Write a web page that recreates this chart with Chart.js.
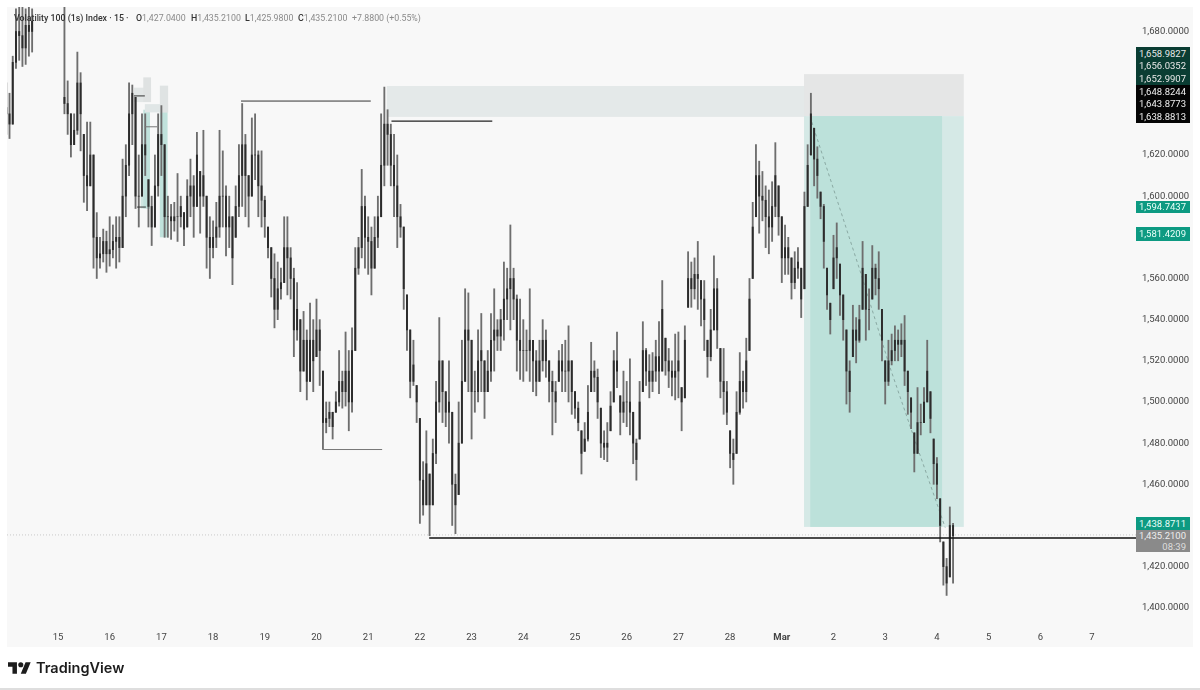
<!DOCTYPE html>
<html>
<head>
<meta charset="utf-8">
<script src="https://cdn.jsdelivr.net/npm/chart.js@4/dist/chart.umd.min.js"></script>
<style>
  html, body { margin: 0; padding: 0; background: #fff; overflow: hidden; }
  #panel { position: absolute; left: 7px; top: 7px; width: 1186px; height: 640px; background: #f8f8f8; }
  #myChart { position: absolute; left: 0; top: 0; }
  #foot { position: absolute; left: 0; top: 688px; width: 1200px; height: 2px; background: #dedede; }
  #logo { position: absolute; left: 8px; top: 662px; }
  #brand { position: absolute; left: 36px; top: 659px; font: 600 14.5px Inter, sans-serif; color: #1c1c1c; }
  .h { position: absolute; top: 13px; font: 8.8px Roboto, sans-serif; color: #8a8a8a; white-space: pre; }
  .h b { font-weight: 500; color: #333; }
  .tag { position: absolute; left: 1136px; width: 50px; padding-right: 4px; text-align: right; font: 9.5px/12px Roboto, sans-serif; }
</style>
</head>
<body>
<div id="panel"></div>
<canvas id="myChart" width="1200" height="690"></canvas>
<div class="h" style="left:14px"><b>Volatility 100 (1s) Index · 15 ·</b></div>
<div class="h" style="left:136px"><b>O</b>1,427.0400</div>
<div class="h" style="left:191px"><b>H</b>1,435.2100</div>
<div class="h" style="left:245px"><b>L</b>1,425.9800</div>
<div class="h" style="left:298px"><b>C</b>1,435.2100</div>
<div class="h" style="left:352px">+7.8800 (+0.55%)</div>
<svg id="logo" width="23" height="12" viewBox="0 4 36 18"><path fill="#1c1c1c" d="M14 22H7V11H0V4h14v18zM28 22h-8l7.5-18h8L28 22z"/><circle fill="#1c1c1c" cx="20" cy="8" r="4"/></svg>
<div id="brand">TradingView</div>
<div id="foot"></div>
<script>
// 16 velas por dia, la primera un dia antes del 15
const velasPorDia = 16
const diaInicial = -1

// null = la vela queda por encima del panel
const highs = [
  1655,1650,1668,1691,1692,1692,1691,1692,1691,null,null,null,null,null,null,null,
  null,null,1692,1656,1640,1640,1670,1660,1630,1636,1636,1620,1592,1580,1584,1583,
  1590,1586,1590,1590,1618,1625,1655,1654,1648,1620,1640,1640,1608,1600,1620,1640,
  1644,1625,1600,1596,1597,1611,1600,1592,1608,1618,1610,1631,1612,1632,1600,1590,
  1588,1597,1632,1622,1605,1600,1590,1605,1625,1645,1630,1610,1638,1640,1622,1622,
  1600,1585,1575,1572,1568,1565,1590,1590,1575,1565,1558,1540,1544,1535,1548,1540,
  1550,1540,1515,1500,1500,1495,1505,1525,1515,1534,1525,1536,1575,1580,1613,1600,
  1590,1585,1590,1600,1640,1653,1642,1635,1630,1620,1596,1585,1552,1535,1530,1508,
  1492,1471,1486,1465,1482,1510,1541,1520,1505,1520,1495,1465,1500,1530,1555,1553,
  1530,1515,1535,1543,1520,1525,1543,1555,1540,1545,1568,1565,1586,1565,1552,1550,
  1540,1535,1555,1530,1525,1530,1540,1535,1520,1515,1510,1525,1528,1530,1537,1520,
  1505,1500,1486,1490,1508,1529,1520,1516,1497,1486,1490,1505,1525,1534,1503,1515,
  1510,1521,1495,1482,1510,1539,1526,1523,1524,1530,1539,1559,1531,1526,1520,1533,
  1534,1507,1537,1573,1568,1570,1578,1559,1559,1530,1545,1571,1560,1526,1526,1510,
  1486,1482,1505,1524,1515,1531,1560,1597,1625,1617,1612,1605,1603,1607,1626,1605,
  1590,1586,1580,1570,1573,1575,1565,1602,1625,1650,1633,1624,1602,1596,1565,1548,
  1581,1587,1567,1552,1535,1520,1547,1541,1547,1578,1562,1555,1576,1567,1573,1545,
  1520,1530,1533,1537,1535,1538,1542,1515,1502,1485,1507,1499,1507,1530,1505,1482,
  1473,1453,1432,1424,1449,1441
]
const lows = [
  1630,1628,1635,1662,1666,1663,1664,1668,1670,null,null,null,null,null,null,null,
  null,null,1640,1630,1619,1625,1630,1622,1597,1593,1605,1565,1560,1565,1568,1563,
  1566,1570,1565,1568,1575,1590,1610,1625,1594,1585,1600,1610,1585,1576,1585,1600,
  1610,1580,1580,1579,1583,1578,1585,1576,1585,1590,1580,1595,1582,1595,1565,1560,
  1570,1575,1580,1585,1571,1575,1557,1580,1590,1595,1590,1585,1600,1608,1590,1585,
  1580,1570,1551,1536,1540,1550,1558,1552,1550,1522,1530,1505,1515,1501,1510,1505,
  1522,1508,1477,1485,1488,1482,1495,1498,1497,1498,1486,1495,1525,1562,1570,1565,
  1562,1552,1565,1575,1590,1605,1615,1605,1590,1575,1580,1545,1525,1502,1508,1490,
  1441,1445,1450,1435,1450,1470,1495,1490,1488,1480,1440,1436,1455,1480,1510,1505,
  1482,1495,1500,1505,1492,1505,1510,1515,1525,1525,1530,1540,1535,1540,1515,1511,
  1510,1515,1510,1505,1503,1510,1515,1512,1500,1484,1490,1510,1505,1505,1500,1494,
  1492,1486,1465,1476,1481,1505,1505,1492,1473,1472,1471,1486,1500,1507,1484,1490,
  1488,1484,1470,1462,1482,1505,1508,1502,1505,1510,1504,1515,1513,1507,1503,1501,
  1502,1486,1502,1546,1546,1550,1545,1537,1525,1512,1520,1535,1526,1502,1494,1489,
  1468,1460,1475,1494,1497,1500,1525,1560,1590,1582,1588,1575,1572,1578,1590,1581,
  1558,1562,1562,1550,1555,1560,1541,1555,1595,1620,1605,1599,1589,1565,1545,1533,
  1555,1560,1542,1530,1499,1495,1522,1519,1529,1545,1530,1535,1550,1552,1545,1520,
  1499,1508,1518,1520,1520,1522,1508,1494,1487,1466,1475,1484,1490,1500,1485,1460,
  1453,1432,1411,1406,1415,1412
]
const closes = [
  1640,1635,1665,1680,1678,1672,1683,1680,1685,null,null,null,null,null,null,null,
  null,null,1645,1640,1625,1632,1655,1640,1610,1605,1620,1580,1570,1572,1578,1572,
  1574,1578,1580,1575,1600,1615,1640,1650,1600,1600,1625,1620,1595,1585,1605,1630,
  1625,1590,1590,1588,1590,1590,1595,1584,1600,1605,1595,1620,1600,1610,1580,1575,
  1580,1585,1600,1600,1585,1590,1570,1595,1610,1625,1610,1600,1620,1620,1605,1598,
  1590,1575,1560,1545,1555,1558,1575,1570,1560,1535,1545,1515,1530,1510,1530,1520,
  1535,1525,1490,1492,1495,1488,1500,1510,1505,1515,1500,1525,1565,1575,1595,1580,
  1578,1565,1580,1590,1615,1635,1630,1615,1605,1590,1585,1555,1535,1510,1518,1500,
  1462,1450,1470,1450,1475,1500,1520,1505,1495,1500,1460,1450,1480,1510,1535,1530,
  1505,1505,1520,1525,1505,1515,1530,1535,1532,1540,1550,1555,1560,1550,1530,1525,
  1525,1525,1530,1520,1510,1520,1530,1520,1510,1505,1500,1520,1515,1515,1520,1505,
  1497,1490,1475,1482,1495,1515,1512,1500,1480,1478,1480,1498,1520,1515,1495,1500,
  1500,1495,1480,1472,1500,1525,1515,1510,1515,1522,1515,1545,1520,1515,1512,1515,
  1520,1500,1530,1560,1555,1562,1560,1550,1540,1522,1535,1555,1535,1510,1505,1495,
  1475,1472,1495,1510,1505,1520,1550,1585,1610,1600,1598,1590,1585,1595,1610,1590,
  1570,1575,1570,1558,1565,1568,1550,1595,1615,1640,1618,1610,1595,1578,1552,1540,
  1570,1575,1552,1540,1515,1505,1535,1530,1540,1565,1545,1545,1565,1560,1555,1530,
  1510,1520,1525,1530,1528,1530,1515,1505,1495,1475,1490,1490,1500,1515,1492,1470,
  1460,1440,1420,1412,1440,1435
]

const etiquetasDias = ["15","16","17","18","19","20","21","22","23","24","25","26","27","28","Mar","2","3","4","5","6","7"]
const etiquetasPrecio = [1680,1620,1600,1560,1540,1520,1500,1480,1460,1420,1400]

// zonas dibujadas con las escalas: x en dias desde el 15, y en precio
const zonas = [
  { x0: 6.36, x1: 14.47, y0: 1653.5, y1: 1638.5, color: "#e4e9e9" },
  { x0: 14.43, x1: 17.52, y0: 1659.3, y1: 1638.9, color: "#e5e6e6" },
  { x0: 14.43, x1: 17.52, y0: 1638.9, y1: 1439.3, color: "#d5e9e6" },
  { x0: 14.55, x1: 17.1, y0: 1638.9, y1: 1439.3, color: "#bce1da" },
  { x0: 1.6, x1: 1.78, y0: 1625, y1: 1594, color: "#cfe6e1" },
  { x0: 1.65, x1: 1.78, y0: 1642, y1: 1594, color: "#c0e2dc" },
  { x0: 1.97, x1: 2.12, y0: 1641, y1: 1580, color: "#c0e2dc" },
  { x0: 1.47, x1: 1.8, y0: 1652.7, y1: 1645.7, color: "#e2e6e6" },
  { x0: 1.65, x1: 1.8, y0: 1657.7, y1: 1645.7, color: "#dfe2e2" },
  { x0: 1.68, x1: 2.13, y0: 1644.7, y1: 1640.7, color: "#e0e6e6" },
  { x0: 1.97, x1: 2.13, y0: 1653.7, y1: 1640.7, color: "#dfe3e3" }
]

// lineas de nivel
const niveles = [
  { xs: [3.54, 6.05], y: 1646.2, color: "#333", ancho: 1 },
  { xs: [6.45, 8.4], y: 1636.5, color: "#222", ancho: 1.2 },
  { xs: [5.13, 6.27], y: 1476.9, color: "#777", ancho: 1 },
  { xs: [7.18, 20.87], y: 1433.9, color: "#111", ancho: 1.3 },
  { xs: [1.47, 1.68], y: 1648.7, color: "#333", ancho: 1 },
  { xs: [1.53, 1.7], y: 1594.7, color: "#333", ancho: 1 },
  { xs: [1.68, 1.92], y: 1633.7, color: "#777", ancho: 1 }
]

// tendencia punteada dentro de la zona verde
const tendenciaX = [14.58, 15.51, 16.09, 16.58, 17.16]
const tendenciaY = [1636, 1564, 1517, 1481, 1439]

// etiquetas de precio apiladas a la derecha
const etiquetasTag = [
  ["1,658.9827", 47, 13, "#0a3d33", "#e8e8e8"],
  ["1,656.0352", 60, 12, "#0a3d33", "#e8e8e8"],
  ["1,652.9907", 72, 13, "#0a3d33", "#e8e8e8"],
  ["1,648.8244", 85, 13, "#050505", "#eeeeee"],
  ["1,643.8773", 98, 12, "#050505", "#eeeeee"],
  ["1,638.8813", 110, 13, "#050505", "#eeeeee"],
  ["1,594.7437", 201, 12, "#0d9a82", "#eafff9"],
  ["1,581.4209", 227, 14, "#0d9a82", "#eafff9"],
  ["1,438.8711", 517, 13, "#0d9a82", "#eafff9"],
  ["1,435.2100", 530, 11, "#8a8a8a", "#eeeeee"],
  ["08:39", 541, 11, "#8a8a8a", "#dddddd"]
]
for (const fila of etiquetasTag) {
  const d = document.createElement("div")
  d.className = "tag"
  d.textContent = fila[0]
  d.style.top = fila[1] + "px"
  d.style.height = fila[2] + "px"
  d.style.lineHeight = fila[2] + "px"
  d.style.background = fila[3]
  d.style.color = fila[4]
  document.body.appendChild(d)
}

const mechas = []
const cuerpos = []
highs.forEach((h, i) => {
  if (h === null) return
  const x = diaInicial + i / velasPorDia
  // la apertura es el cierre de la vela anterior
  const apertura = closes[i - 1] === null || i === 0 ? closes[i] + 3 : closes[i - 1]
  mechas.push({ x: x, y: [lows[i], h] })
  // el salto entre velas no debe pasar de la mecha
  const arriba = Math.min(h, Math.max(apertura, closes[i]))
  const abajo = Math.max(lows[i], Math.min(apertura, closes[i]))
  cuerpos.push({ x: x, y: [abajo, arriba] })
})

const panelZonas = {
  id: "panelZonas",
  beforeDatasetsDraw(chart) {
    const { ctx, scales: { x, y } } = chart
    ctx.save()
    for (const z of zonas) {
      ctx.fillStyle = z.color
      const px0 = x.getPixelForValue(z.x0)
      const py0 = y.getPixelForValue(z.y0)
      ctx.fillRect(px0, py0, x.getPixelForValue(z.x1) - px0, y.getPixelForValue(z.y1) - py0)
    }
    ctx.restore()
  }
}

const datasets = [
  { type: "line", data: [{ x: -0.986, y: 1435.4 }, { x: 20.87, y: 1435.4 }], borderColor: "#c9c9c9", borderWidth: 1, borderDash: [1, 2], pointRadius: 0, order: 5 },
  { type: "line", data: tendenciaX.map((x, i) => ({ x: x, y: tendenciaY[i] })), borderColor: "#8aa9a3", borderWidth: 1, borderDash: [3, 3], pointRadius: 0, order: 4 },
  { label: "mechas", data: mechas, backgroundColor: "#6e6e6e", barThickness: 1.2, grouped: false, order: 3 },
  { label: "cuerpos", data: cuerpos, backgroundColor: "#2c2c2c", barThickness: 1.3, grouped: false, order: 2 }
]
for (const n of niveles) {
  datasets.push({ type: "line", data: n.xs.map(x => ({ x: x, y: n.y })), borderColor: n.color, borderWidth: n.ancho, pointRadius: 0, order: 1 })
}

new Chart(document.getElementById("myChart").getContext("2d"), {
  type: "bar",
  data: { datasets: datasets },
  plugins: [panelZonas],
  options: {
    responsive: false,
    animation: false,
    layout: { padding: { left: 7, top: 7, right: 0, bottom: 45 } },
    plugins: { legend: { display: false }, tooltip: { enabled: false } },
    scales: {
      x: {
        type: "linear",
        offset: false,
        min: -0.986,
        max: 20.87,
        grid: { display: false, drawTicks: false },
        border: { display: false },
        afterFit(scale) { scale.height = 23; scale.paddingLeft = 0; scale.paddingRight = 0 },
        afterBuildTicks(scale) { scale.ticks = etiquetasDias.map((_, i) => ({ value: i })) },
        ticks: {
          autoSkip: false,
          maxRotation: 0,
          padding: 10,
          color: "#444",
          font: ctx => ({ family: "Roboto", size: 9.5, weight: etiquetasDias[ctx.index] === "Mar" ? "bold" : "normal" }),
          callback: (v, i) => etiquetasDias[i]
        }
      },
      y: {
        position: "right",
        min: 1393.1,
        max: 1691.9,
        grid: { display: false, drawTicks: false },
        border: { display: false },
        afterFit(scale) { scale.width = 63; scale.paddingTop = 0; scale.paddingBottom = 0 },
        afterBuildTicks(scale) { scale.ticks = etiquetasPrecio.map(v => ({ value: v })) },
        ticks: {
          autoSkip: false,
          padding: 5,
          color: "#444",
          font: { family: "Roboto", size: 9.5 },
          callback: v => new Intl.NumberFormat("en-US", { minimumFractionDigits: 4 }).format(v)
        }
      }
    }
  }
})
</script>
</body>
</html>
